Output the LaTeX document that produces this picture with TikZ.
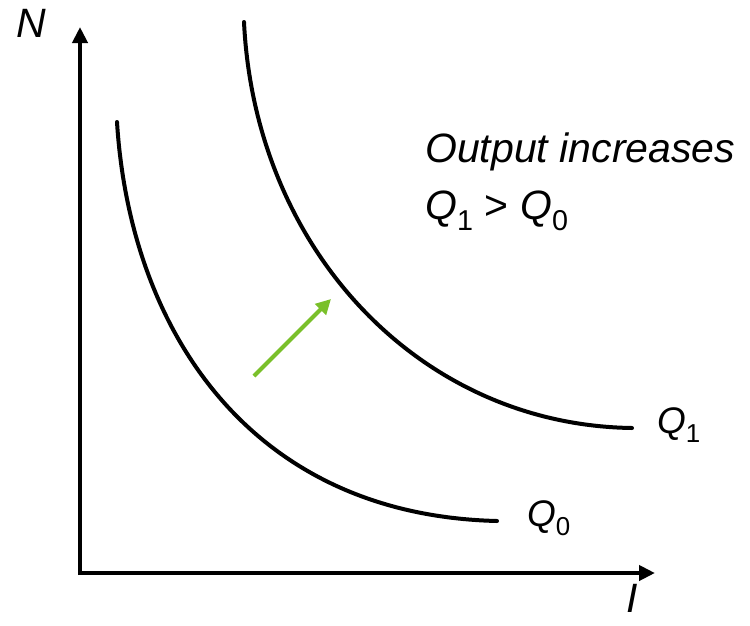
\documentclass[tikz,border=0pt]{standalone}
\usepackage{fontspec}
\setmainfont{Liberation Sans}
\usetikzlibrary{arrows.meta}
\tikzset{
  axis/.style={line width=4pt, -{Triangle[length=16pt,width=15pt]}},
  curve/.style={line width=4pt, line cap=round},
  lbl/.style={font=\fontsize{41}{46}\selectfont\itshape, inner sep=0pt},
  qlbl/.style={font=\fontsize{37}{42}\selectfont\itshape, inner sep=0pt},
}
\definecolor{arrgreen}{HTML}{7AC02A}
\begin{document}
\begin{tikzpicture}[x=1pt,y=-1pt]
\useasboundingbox (0,0) rectangle (750,625);
\coordinate (ytop) at (80,27);
\coordinate (xend) at (655,573);
\draw[axis] (80,575) -- (ytop);
\draw[axis] (78,573) -- (xend);
\node[lbl, anchor=base] (N) at (31,37) {N};
\node[lbl, anchor=base] (I) at (632,612) {I};
% Q0 curve
\draw[curve] (117,122) .. controls (130,330) and (250,515) .. (497,521);
% Q1 curve
\draw[curve] (244,22) .. controls (255,250) and (420,425) .. (632,428);
\node[qlbl, anchor=base west] (q1) at (657,433) {Q\textsubscript{\upshape 1}};
\node[qlbl, anchor=base west] (q0) at (527,526) {Q\textsubscript{\upshape 0}};
\coordinate (gs) at (254,376);
\coordinate (ge) at (331,299);
\draw[arrgreen, line width=4pt, -{Triangle[length=15pt,width=15pt]}] (gs) -- (ge);
\node[lbl, anchor=base west] (t1) at (425,162) {Output increases};
\node[lbl, anchor=base west, font=\fontsize{41}{46}\selectfont] (t2) at (425,219) {\textit{Q}\textsubscript{1} > \textit{Q}\textsubscript{0}};
\end{tikzpicture}
\end{document}
